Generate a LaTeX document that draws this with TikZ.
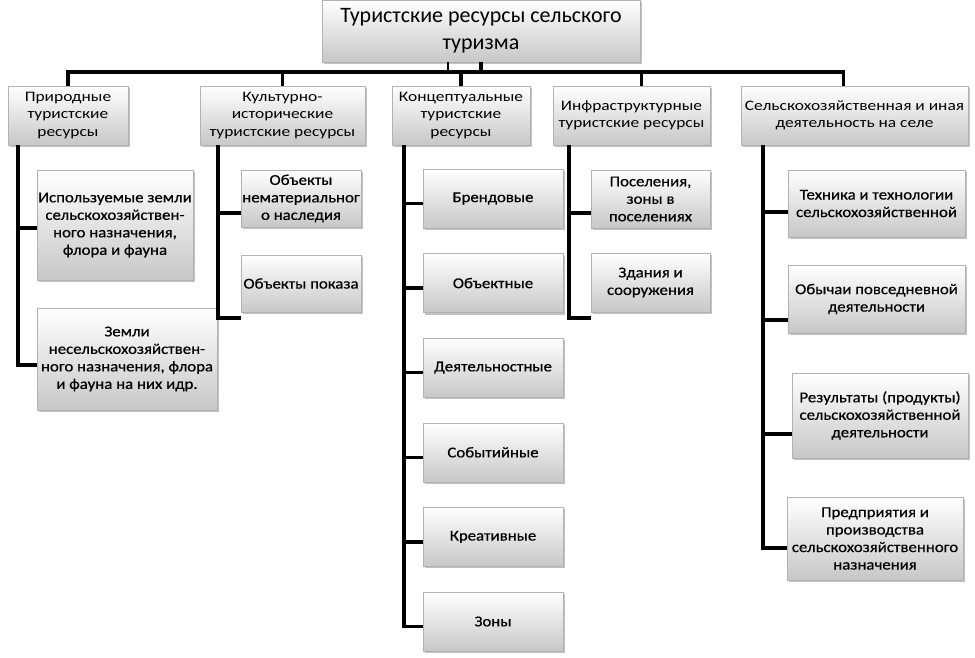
\documentclass[tikz,border=0pt]{standalone}
\usepackage{fontspec}
\setmainfont{Carlito}
\newfontfamily\headfont{Carlito}[FakeStretch=1.2]
\newfontfamily\leaffont{Carlito}[FakeStretch=1.12, FakeBold=0.5]
\usepackage{tikz}
\usetikzlibrary{positioning, shadows, calc}

\begin{document}
\begin{tikzpicture}[x=1pt, y=-1pt,
    box/.style={draw=black!30, line width=0.4pt, top color=white, bottom color=black!22,
        drop shadow={shadow xshift=1.5pt, shadow yshift=-2pt, opacity=0.35, fill=black!70},
        align=center, inner sep=1pt},
    head/.style={box, font=\headfont\fontsize{14.5}{17.5}\selectfont},
    leaf/.style={box, font=\leaffont\fontsize{15}{17.5}\selectfont},
    conn/.style={line width=3.5pt, black}]
    \useasboundingbox (0,0) rectangle (975,658);
    % Title
    \node[box, minimum width=318pt, minimum height=62pt, font=\fontsize{22}{27}\selectfont]
        (title) at (481,31) {Туристские ресурсы сельского\\туризма};
    % Group headers
    \node[head, minimum width=120pt, minimum height=59pt] (h1) at (68,115.5) {Природные\\туристские\\ресурсы};
    \node[head, minimum width=165pt, minimum height=59pt] (h2) at (282.5,115.5) {Культурно-\\исторические\\туристские ресурсы};
    \node[head, minimum width=138pt, minimum height=59pt] (h3) at (461,115.5) {Концептуальные\\туристские\\ресурсы};
    \node[head, minimum width=157pt, minimum height=59pt] (h4) at (631.5,115.5) {Инфраструктурные\\туристские ресурсы};
    \node[head, minimum width=227pt, minimum height=59pt] (h5) at (854.5,115.5) {Сельскохозяйственная и иная\\деятельность на селе};
    % Bus
    \coordinate (bus) at (481,72);
    \draw[conn, line width=2.5pt] ([xshift=-33pt]title.south) -- ([xshift=-33pt]bus);
    \draw[conn, line width=4.5pt] (title.south) -- (bus);
    \draw[conn] (bus) -| (h1.north);
    \draw[conn] (bus) -| (h2.north);
    \draw[conn] (bus) -| (h3.north);
    \draw[conn] (bus) -| ([xshift=10pt]h4.north);
    \draw[conn] (bus) -| ([xshift=-11pt]h5.north);

    % Natural resources
    \node[leaf, minimum width=156pt, minimum height=110pt] (a1) at (115,225) {Используемые земли\\сельскохозяйствен-\\ного назначения,\\флора и фауна};
    \node[leaf, minimum width=180pt, minimum height=102pt] (a2) at (127,359) {Земли\\несельскохозяйствен-\\ного назначения, флора\\и фауна на них идр.};
    \draw[conn] ([xshift=10pt]h1.south west) |- ([yshift=-3pt]a1.west);
    \draw[conn] ([xshift=10pt]h1.south west) |- ([yshift=-6pt]a2.west);

    % Cultural-historical resources
    \node[leaf, minimum width=120pt, minimum height=57pt] (b1) at (301,198.5) {Объекты\\нематериальног\\о наследия};
    \node[leaf, minimum width=120pt, minimum height=57pt] (b2) at (301,283.5) {Объекты показа};
    \draw[conn] ([xshift=18pt]h2.south west) |- ([yshift=-14.5pt]b1.west);
    \draw[conn] ([xshift=18pt]h2.south west) |- ([yshift=-34.5pt]b2.west);

    % Conceptual resources
    \foreach \i/\lbl in {0/Брендовые, 1/Объектные, 2/Деятельностные, 3/Событийные, 4/Креативные, 5/Зоны} {
        \node[leaf, minimum width=140pt, minimum height=59pt] (c\i) at (493,198.5+84.6*\i) {\lbl};
        \draw[conn] ([xshift=12pt]h3.south west) |- ([yshift=-5pt]c\i.west);
    }

    % Infrastructure resources
    \node[leaf, minimum width=119pt, minimum height=58pt] (d1) at (650.5,199) {Поселения,\\зоны в\\поселениях};
    \node[leaf, minimum width=119pt, minimum height=59pt] (d2) at (650.5,282.5) {Здания и\\сооружения};
    \draw[conn] ([xshift=16pt]h4.south west) |- ([yshift=-14pt]d1.west);
    \draw[conn] ([xshift=16pt]h4.south west) |- ([yshift=-35.5pt]d2.west);

    % Agricultural activity
    \node[leaf, minimum width=177pt, minimum height=67pt] (e1) at (876.5,203.5) {Техника и технологии\\сельскохозяйственной};
    \node[leaf, minimum width=177pt, minimum height=68pt] (e2) at (876.5,299) {Обычаи повседневной\\деятельности};
    \node[leaf, minimum width=176pt, minimum height=85pt] (e3) at (880,415.5) {Результаты (продукты)\\сельскохозяйственной\\деятельности};
    \node[leaf, minimum width=176pt, minimum height=83pt] (e4) at (875,538.5) {Предприятия и\\производства\\сельскохозяйственного\\назначения};
    \foreach \n/\dy in {e1/8.5, e2/21, e3/18.5, e4/9.5} {
        \draw[conn] ([xshift=22pt]h5.south west) |- ([yshift=-\dy pt]\n.west);
    }
\end{tikzpicture}
\end{document}
